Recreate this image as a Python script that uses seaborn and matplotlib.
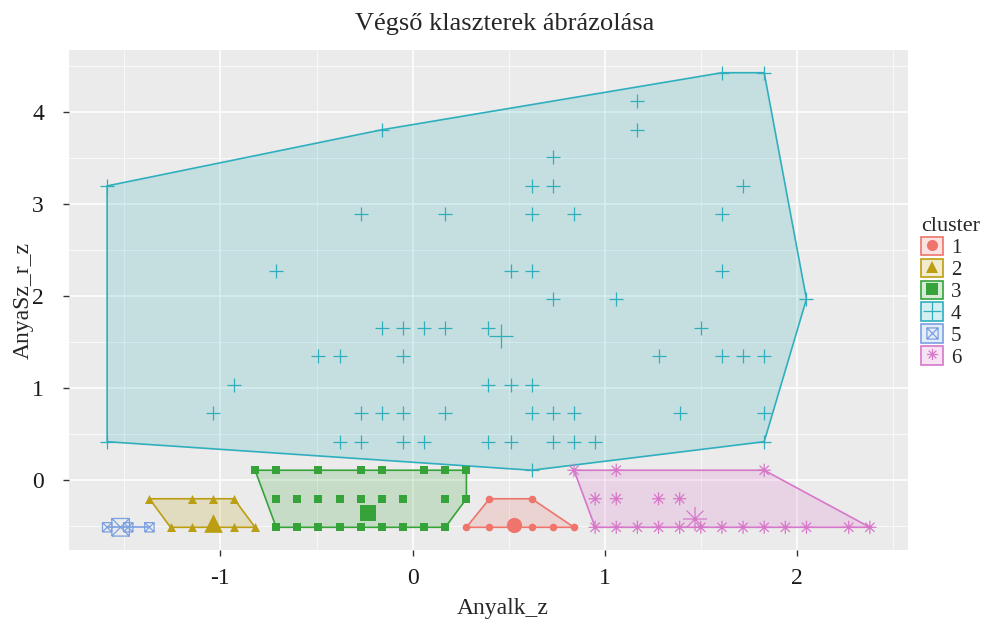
import numpy as np
import pandas as pd
import seaborn as sns
import matplotlib.pyplot as plt
from matplotlib.path import Path
from matplotlib.patches import Patch
from matplotlib.colors import to_rgba

# Points of each cluster (Anyalk_z, AnyaSz_r_z)
c1_x = [0.40, 0.62, 0.28, 0.40, 0.51, 0.62, 0.73, 0.84]
c1_y = [-0.20, -0.20, -0.51, -0.51, -0.51, -0.51, -0.51, -0.51]

c2_x = [-1.37, -1.15, -1.04, -0.93, -1.26, -1.15, -1.04, -0.93, -0.82]
c2_y = [-0.20, -0.20, -0.20, -0.20, -0.51, -0.51, -0.51, -0.51, -0.51]

c3_x = [-0.82, -0.71, -0.49, -0.27, -0.16, 0.06, 0.17, 0.28,
        -0.71, -0.60, -0.49, -0.38, -0.27, -0.16, -0.05, 0.17, 0.28,
        -0.71, -0.60, -0.49, -0.38, -0.27, -0.16, -0.05, 0.06, 0.17]
c3_y = [0.11, 0.11, 0.11, 0.11, 0.11, 0.11, 0.11, 0.11,
        -0.20, -0.20, -0.20, -0.20, -0.20, -0.20, -0.20, -0.20, -0.20,
        -0.51, -0.51, -0.51, -0.51, -0.51, -0.51, -0.51, -0.51, -0.51]

c4_x = [1.61, 1.83, 1.17, -0.16, 1.17, 0.73,
        -1.59, 0.62, 0.73, 1.72,
        -0.27, 0.17, 0.62, 0.84, 1.61,
        -0.71, 0.51, 0.62, 1.61,
        0.73, 1.06, 2.05,
        -0.16, -0.05, 0.06, 0.17, 0.39, 1.50,
        -0.49, -0.38, -0.05, 1.28, 1.61, 1.72, 1.83,
        -0.93, 0.39, 0.51, 0.62,
        -1.04, -0.27, -0.16, -0.05, 0.17, 0.62, 0.73, 0.84, 1.39, 1.83,
        -1.59, -0.38, -0.27, -0.05, 0.06, 0.39, 0.51, 0.73, 0.84, 0.95, 1.83,
        0.62]
c4_y = [4.43, 4.43, 4.12, 3.81, 3.81, 3.51,
        3.20, 3.20, 3.20, 3.20,
        2.89, 2.89, 2.89, 2.89, 2.89,
        2.28, 2.28, 2.28, 2.28,
        1.97, 1.97, 1.97,
        1.66, 1.66, 1.66, 1.66, 1.66, 1.66,
        1.35, 1.35, 1.35, 1.35, 1.35, 1.35, 1.35,
        1.04, 1.04, 1.04, 1.04,
        0.73, 0.73, 0.73, 0.73, 0.73, 0.73, 0.73, 0.73, 0.73, 0.73,
        0.42, 0.42, 0.42, 0.42, 0.42, 0.42, 0.42, 0.42, 0.42, 0.42, 0.42,
        0.11]

c5_x = [-1.59, -1.48, -1.37]
c5_y = [-0.51, -0.51, -0.51]

c6_x = [0.84, 1.06, 1.83,
        0.95, 1.06, 1.28, 1.39,
        0.95, 1.06, 1.17, 1.28, 1.39, 1.50, 1.61, 1.72, 1.83, 1.94, 2.05, 2.27, 2.38]
c6_y = [0.11, 0.11, 0.11,
        -0.20, -0.20, -0.20, -0.20,
        -0.51, -0.51, -0.51, -0.51, -0.51, -0.51, -0.51, -0.51, -0.51, -0.51, -0.51, -0.51, -0.51]

# cluster centres (big markers)
centre_x = [0.53, -1.04, -0.23, 0.46, -1.52, 1.47]
centre_y = [-0.49, -0.46, -0.36, 1.57, -0.51, -0.42]

clusters = ['1', '2', '3', '4', '5', '6']
colors = ['#EE746C', '#BC9E12', '#36A33A', '#2FAFBD', '#7BA0E2', '#D777C9']

xs = [c1_x, c2_x, c3_x, c4_x, c5_x, c6_x]
ys = [c1_y, c2_y, c3_y, c4_y, c5_y, c6_y]
df = pd.concat([pd.DataFrame({'Anyalk_z': x, 'AnyaSz_r_z': y, 'cluster': c})
                for x, y, c in zip(xs, ys, clusters)], ignore_index=True)
cent = pd.DataFrame({'Anyalk_z': centre_x, 'AnyaSz_r_z': centre_y, 'cluster': clusters})

# ggplot-like markers: square with cross (shape 7) and asterisk (shape 8)
M, L = Path.MOVETO, Path.LINETO
box_x = Path([(-1, -1), (1, -1), (1, 1), (-1, 1), (-1, -1), (-1, -1), (1, 1), (-1, 1), (1, -1)],
             [M, L, L, L, L, M, L, M, L])
aster = Path([(-1, 0), (1, 0), (0, -1), (0, 1), (-0.7, -0.7), (0.7, 0.7), (-0.7, 0.7), (0.7, -0.7)],
             [M, L, M, L, M, L, M, L])
markers = ['o', '^', 's', '+', box_x, aster]
kind = ['filled', 'filled', 'filled', 'line', 'path', 'path']
sizes = [30, 42, 32, 100, 45, 90]
big = [120, 180, 140, 320, 160, 300]


def hull(x, y):
    pts = sorted(set(zip(x, y)))
    if len(pts) < 3:
        return pts

    def cross(o, a, b):
        return (a[0] - o[0]) * (b[1] - o[1]) - (a[1] - o[1]) * (b[0] - o[0])
    lower, upper = [], []
    for p in pts:
        while len(lower) >= 2 and cross(lower[-2], lower[-1], p) <= 0:
            lower.pop()
        lower.append(p)
    for p in reversed(pts):
        while len(upper) >= 2 and cross(upper[-2], upper[-1], p) <= 0:
            upper.pop()
        upper.append(p)
    return lower[:-1] + upper[:-1]


sns.set_theme(style='darkgrid')
plt.rcParams['font.family'] = ['Liberation Serif', 'DejaVu Serif']
plt.rcParams['axes.facecolor'] = '#EBEBEB'
plt.rcParams['axes.unicode_minus'] = False

fig = plt.figure(figsize=(9.83, 6.21), dpi=100)
ax = fig.add_axes([0.0702, 0.1143, 0.8535, 0.8052])

for i, c in enumerate(clusters):
    h = np.array(hull(xs[i], ys[i]))
    ax.fill(h[:, 0], h[:, 1], facecolor=to_rgba(colors[i], 0.2),
            edgecolor=colors[i], linewidth=1.2, zorder=2)

for i, c in enumerate(clusters):
    sub = df[df['cluster'] == c]
    one = cent[cent['cluster'] == c]
    for d, s in [(sub, sizes[i]), (one, big[i])]:
        if kind[i] == 'filled':
            sns.scatterplot(data=d, x='Anyalk_z', y='AnyaSz_r_z', color=colors[i],
                            marker=markers[i], s=s, linewidth=0, ax=ax, legend=False, zorder=3)
        elif kind[i] == 'line':
            sns.scatterplot(data=d, x='Anyalk_z', y='AnyaSz_r_z', color=colors[i],
                            marker=markers[i], s=s, linewidth=0.9, ax=ax, legend=False, zorder=3)
        else:
            sns.scatterplot(data=d, x='Anyalk_z', y='AnyaSz_r_z', marker=markers[i], s=s,
                            facecolors='none', edgecolors=colors[i], linewidth=0.9,
                            ax=ax, legend=False, zorder=3)

# limits with ggplot's 5% expansion
xr = df['Anyalk_z'].max() - df['Anyalk_z'].min()
yr = df['AnyaSz_r_z'].max() - df['AnyaSz_r_z'].min()
ax.set_xlim(df['Anyalk_z'].min() - 0.05 * xr, df['Anyalk_z'].max() + 0.05 * xr)
ax.set_ylim(df['AnyaSz_r_z'].min() - 0.05 * yr, df['AnyaSz_r_z'].max() + 0.05 * yr)

ax.set_xticks([-1, 0, 1, 2])
ax.set_yticks([0, 1, 2, 3, 4])
ax.set_xticks([-1.5, -0.5, 0.5, 1.5, 2.5], minor=True)
ax.set_yticks([-0.5, 0.5, 1.5, 2.5, 3.5, 4.5], minor=True)
ax.grid(which='major', color='white', linewidth=1.1)
ax.grid(which='minor', color='white', linewidth=0.5)
ax.tick_params(which='major', length=4, width=1, color='#333333', labelsize=17,
               labelcolor='#1a1a1a', bottom=True, left=True)
ax.tick_params(axis='x', which='major', pad=9)
ax.tick_params(axis='y', which='major', pad=14)
ax.tick_params(which='minor', length=0)
for sp in ax.spines.values():
    sp.set_visible(False)

ax.set_xlabel('Anyalk_z', fontsize=17)
ax.set_ylabel('AnyaSz_r_z', fontsize=17)
ax.xaxis.set_label_coords(0.517, -0.095)
ax.yaxis.set_label_coords(-0.042, 0.5)
fig.text(0.513, 0.962, 'Végső klaszterek ábrázolása', ha='center', va='center', fontsize=19)

handles = [(Patch(facecolor=to_rgba(col, 0.2), edgecolor=col, linewidth=1.2),
            plt.Line2D([], [], marker=m, ls='', markersize=8 if k != 'line' else 13,
                       color=col, markerfacecolor=col if k == 'filled' else 'none',
                       markeredgecolor=col, markeredgewidth=0 if k == 'filled' else 0.9))
           for col, m, k in zip(colors, markers, kind)]
leg = ax.legend(handles, clusters, title='cluster', loc='center left',
                bbox_to_anchor=(0.998, 0.515), frameon=False, fontsize=15, title_fontsize=16,
                handlelength=1.05, handleheight=1.0, handletextpad=0.4, labelspacing=0.02,
                borderpad=0.2, alignment='left')

fig.savefig('out.png', dpi=100)
